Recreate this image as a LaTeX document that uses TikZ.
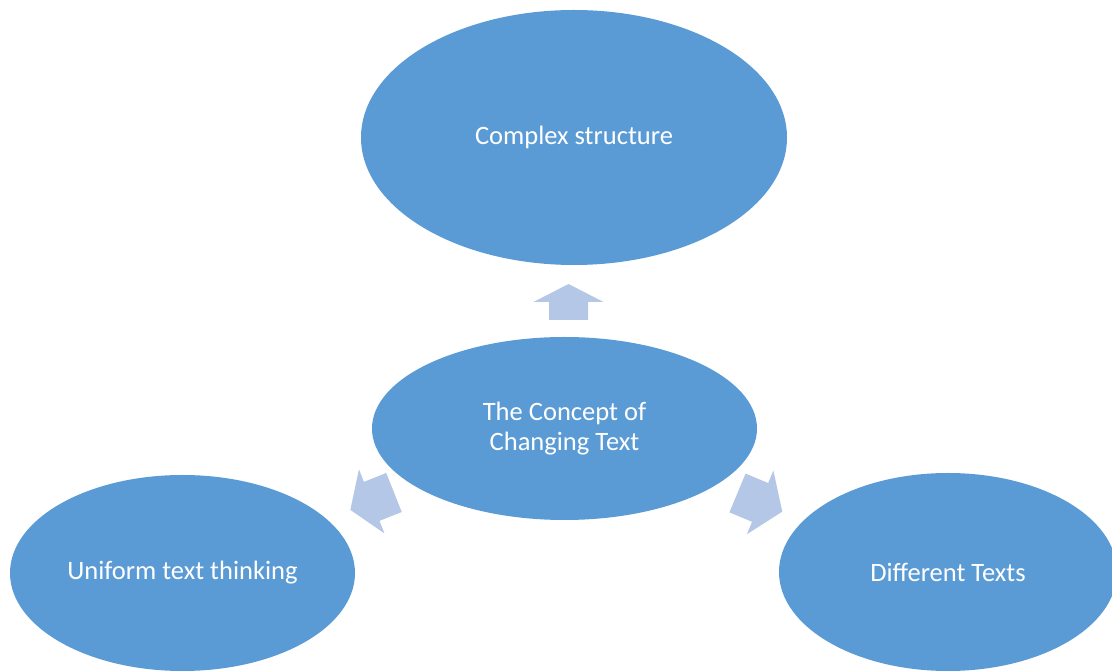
\documentclass[tikz,border=0pt]{standalone}
\usepackage{fontspec}
\setmainfont{Carlito}
\usepackage{tikz}
\usetikzlibrary{shapes.geometric,positioning}
\definecolor{bubbleblue}{HTML}{5B9BD5}
\definecolor{arrowblue}{HTML}{B4C7E7}
\tikzset
{
    bubble/.style = {ellipse, fill=bubbleblue, draw=none, text=white, align=center, inner sep=0pt, font=\fontsize{15.1}{17.2}\selectfont},
    pointer/.style = {fill=arrowblue, draw=none}
}
% block arrow: #1 base point, #2 angle, #3 length, #4 head length, #5 shaft half width, #6 head half width
\newcommand{\blockarrow}[6]{
  \begin{scope}[shift={#1}, rotate=#2]
    \fill[pointer] (0,-#5) -- ({#3-#4},-#5) -- ({#3-#4},-#6) -- (#3,0) -- ({#3-#4},#6) -- ({#3-#4},#5) -- (0,#5) -- cycle;
  \end{scope}
}

\begin{document}
\begin{tikzpicture}
\useasboundingbox (0,0) rectangle (22.24,13.42);
\node[bubble, minimum width=8.52cm, minimum height=5.1cm, text depth=0.1cm] (complex) at (11.48,10.67) {Complex structure};
\node[bubble, minimum width=7.7cm, minimum height=3.66cm] (concept) at (11.29,4.85) {The Concept of\\Changing Text};
\node[bubble, minimum width=6.9cm, minimum height=3.92cm, text depth=0.1cm] (uniform) at (3.65,1.96) {Uniform text thinking};
\node[bubble, minimum width=6.76cm, minimum height=3.96cm] (different) at (18.96,1.98) {Different Texts};
\coordinate (upbase) at (11.37,7.02);
\coordinate (leftbase) at (7.88,3.57);
\coordinate (rightbase) at (14.75,3.56);
\blockarrow{(upbase)}{90}{0.72}{0.36}{0.39}{0.70}
\blockarrow{(leftbase)}{201.7}{0.94}{0.46}{0.42}{0.69}
\blockarrow{(rightbase)}{-22.6}{0.97}{0.48}{0.42}{0.69}
\end{tikzpicture}
\end{document}
